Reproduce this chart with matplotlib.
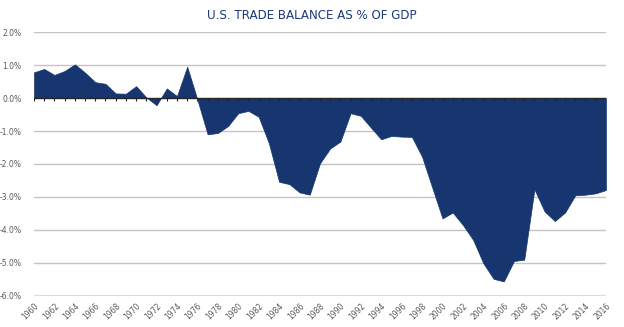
import numpy as np
import matplotlib
matplotlib.use('Agg')
import matplotlib.pyplot as plt
from matplotlib.ticker import FuncFormatter

# Trade balance as % of GDP
years = list(range(1960, 2017))
balance = [0.78, 0.88, 0.70, 0.82, 1.02, 0.77, 0.48, 0.43, 0.14, 0.13,
           0.36, 0.02, -0.22, 0.29, 0.06, 0.95, -0.05, -1.10, -1.06, -0.85,
           -0.46, -0.39, -0.57, -1.37, -2.54, -2.61, -2.86, -2.93, -1.98, -1.53,
           -1.32, -0.46, -0.54, -0.90, -1.25, -1.15, -1.17, -1.18, -1.78, -2.72,
           -3.65, -3.47, -3.85, -4.30, -5.01, -5.48, -5.56, -4.94, -4.90, -2.77,
           -3.44, -3.73, -3.47, -2.95, -2.93, -2.89, -2.79]
y_ticks = [2, 1, 0, -1, -2, -3, -4, -5, -6]
x_ticks = list(range(1960, 2017, 2))

navy = '#17366F'
grey_txt = '#595959'

fig = plt.figure(figsize=(6.24, 3.27), dpi=100)
ax = fig.add_axes([0.0545, 0.095, 0.9165, 0.807])

for v in y_ticks:
    if v == -6:
        ax.axhline(v, color='#D9D9D9', lw=2.2, zorder=0)
    elif v != 0:
        ax.axhline(v, color='#C4C4C4', lw=1.0, zorder=0)

ax.fill_between(years, balance, 0, color=navy, lw=0.5, edgecolor=navy, zorder=2)

# zero line with yearly tick marks
ax.axhline(0, color='#262626', lw=1.0, zorder=3)
ax.vlines(years, -0.09, 0, color='#262626', lw=0.8, zorder=3)

ax.set_xlim(1960, 2016)
ax.set_ylim(-6, 2)
ax.set_yticks(y_ticks)
ax.yaxis.set_major_formatter(FuncFormatter(lambda v, p: f'{v:.1f}%'))
ax.set_xticks(x_ticks)
ax.set_xticklabels([str(y) for y in x_ticks], rotation=45, ha='right',
                   rotation_mode='anchor')
ax.tick_params(axis='both', length=0, labelsize=5.5, colors=grey_txt)
ax.tick_params(axis='y', pad=9)
ax.tick_params(axis='x', pad=4)
for s in ax.spines.values():
    s.set_visible(False)

fig.text(0.499, 0.954, 'U.S. TRADE BALANCE AS % OF GDP', ha='center', va='center',
         fontsize=8.6, color='#1F3A7A')

fig.savefig('out.png', dpi=100)
